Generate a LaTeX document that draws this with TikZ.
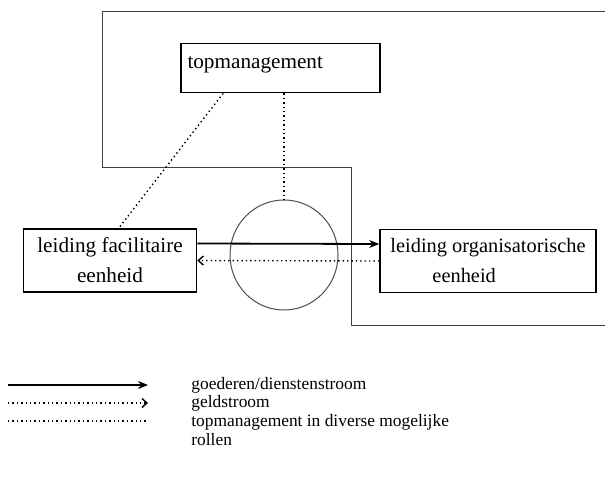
\documentclass[tikz,border=0pt]{standalone}
\usepackage{fontspec}
\setmainfont{Liberation Serif}
\usetikzlibrary{shapes.geometric,arrows.meta}

\begin{document}
\begin{tikzpicture}[x=0.5pt, y=-0.5pt,
        unit/.style = {shape=rectangle, draw, line width=0.8pt, align=center, minimum height=31.5pt, inner sep=0pt, font=\fontsize{10.6}{15}\selectfont},
        frame/.style = {draw=black!75, line width=0.5pt},
        flow/.style = {line width=0.9pt, -{Stealth[length=5pt,width=4pt]}},
        money/.style = {line width=0.7pt, dash pattern=on 0.7pt off 1.5pt, -{Straight Barb[length=2.5pt,width=4.5pt]}},
        role/.style = {line width=0.7pt, dash pattern=on 0.7pt off 1.5pt},
        legend/.style = {anchor=west, align=left, inner sep=0pt, font=\fontsize{8.7}{9.5}\selectfont}]

    \useasboundingbox (0,0) rectangle (605,477);

    % kader rond topmanagement
    \draw[frame] (605,11) -- (102,11) -- (102,167) -- (351,167) -- (351,325) -- (605,325);

    \node[unit, minimum height=0pt, minimum width=99.5pt, text width=93pt, align=left, inner xsep=3.25pt, text height=12.5pt, text depth=12pt] (top) at (280.5,68) {topmanagement};
    \node[unit, minimum width=86.5pt] (lf) at (110,260.5) {leiding facilitaire\\eenheid};
    \node[unit, minimum width=108pt, align=left, font=\fontsize{10.2}{15}\selectfont] (lo) at (488,261) {leiding organisatorische\\\hspace*{21pt}eenheid};
    \node[ellipse, draw=black!70, line width=0.5pt, minimum width=54pt, minimum height=55pt, inner sep=0pt] (ring) at (284,255) {};

    % rollen van het topmanagement
    \draw[role] ([xshift=21.5pt]top.south west) -- ([xshift=48pt]lf.north west);
    \draw[role] (ring.north |- top.south) -- (ring.north);

    % stromen
    \draw[flow] ([yshift=8.5pt]lf.east) -- ([yshift=8.5pt]lo.west);
    \draw[money] (lo.west) -- (lf.east);

    % legenda
    \coordinate (k1a) at (8,385);
    \coordinate (k1b) at (148,385);
    \coordinate (k2a) at (8,403);
    \coordinate (k2b) at (148,403);
    \coordinate (k3a) at (8,421);
    \coordinate (k3b) at (148,421);
    \draw[flow] (k1a) -- (k1b);
    \draw[money] (k2a) -- (k2b);
    \draw[role] (k3a) -- (k3b);
    \node[legend] (k1) at (191,385) {goederen/dienstenstroom};
    \node[legend] (k2) at (191,403) {geldstroom};
    \node[legend] (k3) at (191,430.5) {topmanagement in diverse mogelijke\\rollen};
\end{tikzpicture}
\end{document}
